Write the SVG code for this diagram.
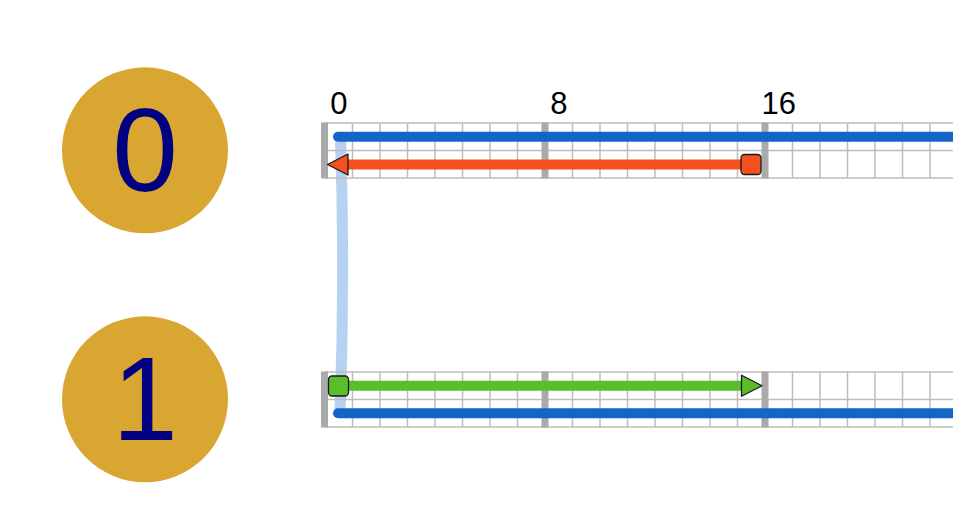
<svg xmlns="http://www.w3.org/2000/svg" xmlns:xlink="http://www.w3.org/1999/xlink" width="953" height="516" viewBox="0 0 953 516">
<style>
.bg{fill:#ffffff}
.circ{fill:#DAA632}
.ctext{font-family:"Liberation Sans",Arial,sans-serif;font-size:118px;fill:#000080;text-anchor:middle}
.lbl{font-family:"Liberation Sans",Arial,sans-serif;font-size:31px;fill:#000000;text-anchor:middle}
.grid{stroke:#bdbdbd;stroke-width:1.5;fill:none}
.major{stroke:#aaaaaa;stroke-width:7;fill:none}
.blue{stroke:#1565C8;stroke-width:10;stroke-linecap:round;fill:none}
.link{stroke:#b7d1f1;stroke-width:11;fill:none}
.red{stroke:#F4511E;stroke-width:10;fill:none}
.green{stroke:#5ABD2B;stroke-width:10;fill:none}
.hd{stroke:#1a1a1a;stroke-width:1.3;stroke-linejoin:round}
</style>
<defs>
<g id="grid">
<path class="grid" d="M325,123H960M325,150.5H960M325,178H960
M352.5,123V178M380,123V178M407.5,123V178M435,123V178M462.5,123V178M490,123V178M517.5,123V178M545,123V178
M572.5,123V178M600,123V178M627.5,123V178M655,123V178M682.5,123V178M710,123V178M737.5,123V178M765,123V178
M792.5,123V178M820,123V178M847.5,123V178M875,123V178M902.5,123V178M930,123V178M957.5,123V178"/>
<path class="major" d="M324.5,122.5V178.5M545,122.5V178.5M765,122.5V178.5"/>
</g>
</defs>
<rect class="bg" x="0" y="0" width="953" height="516"/>
<g id="node-0">
<circle class="circ" cx="145" cy="150.3" r="83"/>
<text class="ctext" x="145" y="191">0</text>
</g>
<g id="node-1">
<circle class="circ" cx="145" cy="399.3" r="83"/>
<text class="ctext" x="145" y="440">1</text>
</g>
<g id="connectors-back">
<path class="link" d="M340.5,137 C343.5,230 343.5,320 340,413"/>
</g>
<g id="track-0">
<use xlink:href="#grid"/>
<text class="lbl" x="338.75" y="114">0</text>
<text class="lbl" x="558.75" y="114">8</text>
<text class="lbl" x="778.75" y="114">16</text>
<path class="blue" d="M338,136.75H970"/>
</g>
<g id="track-1">
<use xlink:href="#grid" transform="translate(0,249)"/>
<path class="blue" d="M338,413.25H970"/>
</g>
<g id="connectors">
<path class="red" d="M347,164.5H751"/>
<polygon class="hd" fill="#F4511E" points="327.5,164.5 348,154 348,175"/>
<rect class="hd" fill="#F4511E" x="741" y="154.5" width="20" height="20" rx="3.5"/>
<path class="green" d="M338.5,385.75H743"/>
<rect class="hd" fill="#5ABD2B" x="328.5" y="376" width="20" height="20" rx="3.5"/>
<polygon class="hd" fill="#5ABD2B" points="762,385.75 741.5,375.25 741.5,396.25"/>
</g>
</svg>
